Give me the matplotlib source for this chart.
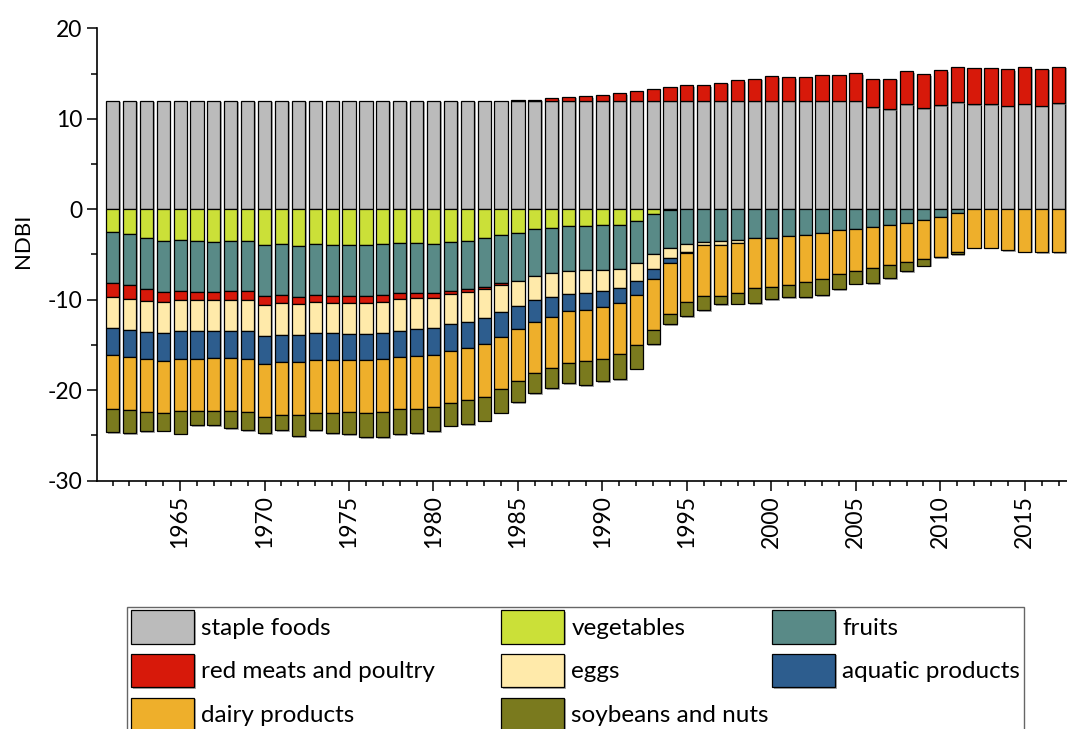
"""
NDBI by food group, 1961-2017, stacked bars (positive and negative parts).
"""
import numpy as np
import matplotlib
matplotlib.use("Agg")
import matplotlib.pyplot as plt
import matplotlib.patheffects as pe
from matplotlib.patches import Rectangle
from matplotlib.ticker import MultipleLocator

plt.rcParams["font.family"] = ["Lato", "DejaVu Sans"]
plt.rcParams["axes.unicode_minus"] = False

years = np.arange(1961, 2018)

staple = [12.0, 12.0, 12.0, 12.0, 12.0, 12.0, 12.0, 12.0, 12.0, 12.0,
          12.0, 12.0, 12.0, 12.0, 12.0, 12.0, 12.0, 12.0, 12.0, 12.0,
          12.0, 12.0, 12.0, 12.0, 12.0, 12.0, 12.0, 12.0, 12.0, 12.0,
          12.0, 12.0, 12.0, 12.0, 12.0, 12.0, 12.0, 12.0, 12.0, 12.0,
          12.0, 12.0, 12.0, 12.0, 12.0, 11.27, 11.08, 11.60, 11.16, 11.49,
          11.82, 11.63, 11.63, 11.45, 11.67, 11.45, 11.71]
vegetables = [-2.47, -2.69, -3.13, -3.50, -3.43, -3.54, -3.58, -3.50, -3.47, -3.98,
              -3.80, -4.05, -3.87, -3.91, -3.91, -3.98, -3.87, -3.76, -3.76, -3.87,
              -3.58, -3.47, -3.21, -2.88, -2.66, -2.18, -2.03, -1.81, -1.81, -1.77,
              -1.70, -1.33, -0.52, -0.08, 0, 0, 0, 0, 0, 0,
              0, 0, 0, 0, 0, 0, 0, 0, 0, 0,
              0, 0, 0, 0, 0, 0, 0]
fruits = [-5.64, -5.71, -5.71, -5.67, -5.63, -5.63, -5.59, -5.56, -5.59, -5.64,
          -5.67, -5.60, -5.60, -5.63, -5.63, -5.56, -5.60, -5.45, -5.49, -5.41,
          -5.45, -5.37, -5.34, -5.30, -5.26, -5.15, -5.01, -5.04, -4.93, -4.90,
          -4.86, -4.64, -4.42, -4.23, -3.83, -3.65, -3.47, -3.43, -3.13, -3.13,
          -2.91, -2.80, -2.58, -2.25, -2.14, -1.92, -1.70, -1.48, -1.18, -0.89,
          -0.45, 0, 0, 0, 0, 0, 0]
red_meats = [-1.62, -1.55, -1.29, -1.11, -1.00, -0.89, -0.85, -0.96, -1.00, -0.99,
             -0.88, -0.85, -0.81, -0.78, -0.81, -0.81, -0.81, -0.74, -0.60, -0.49,
             -0.37, -0.30, -0.29, -0.22, 0.07, 0.10, 0.26, 0.44, 0.51, 0.66,
             0.84, 1.06, 1.28, 1.50, 1.73, 1.73, 1.98, 2.28, 2.43, 2.69,
             2.61, 2.65, 2.87, 2.87, 3.02, 3.17, 3.36, 3.64, 3.75, 3.90,
             3.87, 4.02, 4.02, 4.02, 4.02, 4.09, 4.05]
eggs = [-3.42, -3.42, -3.39, -3.42, -3.42, -3.42, -3.46, -3.46, -3.42, -3.43,
        -3.50, -3.43, -3.42, -3.38, -3.43, -3.47, -3.42, -3.46, -3.41, -3.31,
        -3.31, -3.28, -3.21, -2.99, -2.80, -2.73, -2.69, -2.55, -2.51, -2.39,
        -2.14, -1.99, -1.69, -1.11, -0.85, -0.30, -0.48, -0.26, 0, 0,
        0, 0, 0, 0, 0, 0, 0, 0, 0, 0,
        0, 0, 0, 0, 0, 0, 0]
aquatic = [-2.99, -2.95, -3.02, -3.03, -3.02, -3.06, -2.99, -2.95, -3.02, -3.05,
           -2.98, -2.94, -2.99, -2.95, -2.87, -2.87, -2.88, -2.87, -2.91, -2.98,
           -2.95, -2.94, -2.83, -2.68, -2.54, -2.39, -2.13, -1.87, -1.84, -1.77,
           -1.62, -1.47, -1.03, -0.48, -0.10, 0, 0, 0, 0, 0,
           0, 0, 0, 0, 0, 0, 0, 0, 0, 0,
           0, 0, 0, 0, 0, 0, 0]
dairy = [-5.89, -5.89, -5.86, -5.82, -5.82, -5.78, -5.85, -5.89, -5.90, -5.90,
         -5.86, -5.90, -5.78, -5.82, -5.75, -5.78, -5.82, -5.82, -5.86, -5.82,
         -5.78, -5.75, -5.82, -5.79, -5.75, -5.67, -5.71, -5.75, -5.71, -5.67,
         -5.67, -5.60, -5.68, -5.63, -5.50, -5.59, -5.59, -5.59, -5.53, -5.49,
         -5.42, -5.27, -5.12, -4.90, -4.68, -4.53, -4.42, -4.38, -4.35, -4.34,
         -4.23, -4.24, -4.24, -4.50, -4.68, -4.76, -4.76]
soybeans = [-2.61, -2.54, -2.10, -1.91, -2.47, -1.51, -1.55, -1.88, -2.02, -1.76,
            -1.70, -2.28, -1.92, -2.28, -2.43, -2.73, -2.80, -2.76, -2.72, -2.62,
            -2.47, -2.65, -2.66, -2.61, -2.32, -2.21, -2.21, -2.21, -2.61, -2.51,
            -2.76, -2.58, -1.58, -1.18, -1.51, -1.62, -0.96, -1.14, -1.73, -1.33,
            -1.40, -1.62, -1.81, -1.69, -1.40, -1.69, -1.47, -0.99, -0.70, -0.08,
            -0.30, 0, 0, 0, 0, 0, 0]

groups = [
    ("staple foods", staple, "#BBBBBB"),
    ("vegetables", vegetables, "#CBE038"),
    ("fruits", fruits, "#598A87"),
    ("red meats and poultry", red_meats, "#D7190A"),
    ("eggs", eggs, "#FFEAAA"),
    ("aquatic products", aquatic, "#2D5D8E"),
    ("dairy products", dairy, "#EEAF2B"),
    ("soybeans and nuts", soybeans, "#7A7A1E"),
]

fig = plt.figure(figsize=(10.67, 7.29), dpi=100)
ax = fig.add_axes([0.0912, 0.3406, 0.9088, 0.6206])

shadow = [pe.SimplePatchShadow(offset=(1.2, -1.2), shadow_rgbFace="0.45", alpha=0.6), pe.Normal()]

pos_bottom = np.zeros(len(years))
neg_bottom = np.zeros(len(years))
handles = {}
for name, vals, color in groups:
    vals = np.array(vals, dtype=float)
    bottom = np.where(vals >= 0, pos_bottom, neg_bottom)
    keep = vals != 0
    bars = ax.bar(years[keep], vals[keep], bottom=bottom[keep], width=0.78,
                  color=color, edgecolor="black", linewidth=0.9, zorder=2)
    for b in bars:
        b.set_path_effects(shadow)
    handles[name] = bars
    pos_bottom += np.clip(vals, 0, None)
    neg_bottom += np.clip(vals, None, 0)

ax.set_xlim(1960.1, 2017.5)
ax.set_ylim(-30, 20)
ax.yaxis.set_major_locator(MultipleLocator(10))
ax.yaxis.set_minor_locator(MultipleLocator(5))
ax.set_xticks(np.arange(1965, 2016, 5))
ax.xaxis.set_minor_locator(MultipleLocator(1))
ax.tick_params(axis="x", labelrotation=90)
ax.tick_params(which="major", direction="out", length=7.5, width=1.1, labelsize=16.5, pad=3)
ax.tick_params(axis="x", which="minor", direction="out", length=3.8, width=1.1)
ax.tick_params(axis="y", which="minor", direction="out", length=4.5, width=1.1)
for side in ("top", "right"):
    ax.spines[side].set_visible(False)
for side in ("left", "bottom"):
    ax.spines[side].set_linewidth(1.2)
ax.set_ylabel("NDBI", fontsize=16)
ax.yaxis.set_label_coords(-0.066, 0.53)

# legend: three columns, laid out like the original grid
columns = [
    (131, ["staple foods", "red meats and poultry", "dairy products"]),
    (501, ["vegetables", "eggs", "soybeans and nuts"]),
    (772, ["fruits", "aquatic products"]),
]
W, H = 1067, 729
for x_px, names in columns:
    fig.legend([handles[n] for n in names], names, loc="upper left",
               bbox_to_anchor=(x_px / W, 1 - 610 / H), bbox_transform=fig.transFigure,
               frameon=False, borderpad=0, borderaxespad=0, fontsize=17.5,
               handlelength=2.6, handleheight=1.75, handletextpad=0.3,
               labelspacing=0.42)
fig.add_artist(Rectangle((127 / W, -0.05), (1024 - 127) / W, 0.05 + 1 - 607 / H,
                         transform=fig.transFigure, fill=False,
                         edgecolor="#666666", linewidth=1.0))

fig.savefig("out.png", dpi=100)
